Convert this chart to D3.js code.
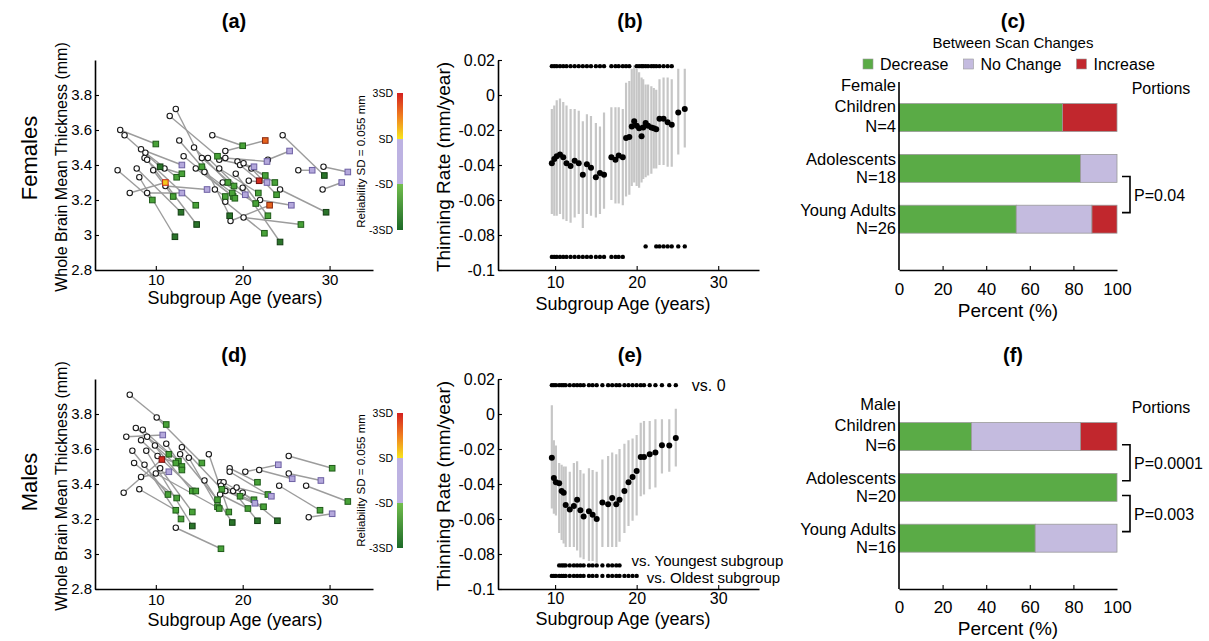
<!DOCTYPE html>
<html><head><meta charset="utf-8">
<script src="https://cdn.jsdelivr.net/npm/d3@7/dist/d3.min.js"></script>
<style>html,body{margin:0;padding:0;background:#fff;}</style>
</head><body>
<script>
// ---------------- DATA ----------------
const ageDomain = [3, 35];
const ageTicks = [10, 20, 30];
const thicknessDomain = [2.8, 4.0];
const thicknessTicks = [2.8, 3, 3.2, 3.4, 3.6, 3.8];
const rateDomain = [-0.1, 0.02];
const rateTicks = [-0.1, -0.08, -0.06, -0.04, -0.02, 0, 0.02];
const percentTicks = [0, 20, 40, 60, 80, 100];
const sdTicks = [3, 1, -1, -3];
const sdTickLabels = ["3SD", "SD", "-SD", "-3SD"];

// [age scan1, thickness scan1, age scan2, thickness scan2, change class]
const femalePairs = [
 [5.9,3.60,10.0,3.52,"G"],[6.4,3.57,10.5,3.39,"D"],[5.6,3.37,9.6,3.20,"G"],[7.0,3.24,11.1,3.30,"Y"],
 [8.3,3.49,13.0,3.40,"P"],[8.8,3.47,12.4,3.33,"G"],[8.7,3.44,14.6,3.17,"G"],[9.0,3.43,14.7,3.06,"D"],
 [7.8,3.38,12.9,3.13,"D"],[8.1,3.33,12.2,2.99,"D"],[9.0,3.24,13.0,3.24,"P"],[9.7,3.37,12.0,3.22,"G"],
 [11.0,3.38,13.0,3.35,"G"],[11.1,3.28,15.9,3.26,"P"],[12.3,3.72,18.5,3.11,"D"],[11.6,3.68,17.1,3.45,"G"],
 [12.7,3.54,15.3,3.39,"G"],[14.4,3.50,18.3,3.30,"G"],[15.3,3.44,19.0,3.28,"G"],[14.6,3.38,18.9,3.22,"G"],
 [16.5,3.57,20.0,3.51,"G"],[17.3,3.43,21.3,3.39,"P"],[17.3,3.38,21.8,3.24,"G"],[18.0,3.48,22.6,3.54,"O"],
 [18.0,3.44,22.8,3.42,"P"],[16.8,3.26,18.0,3.22,"G"],[17.7,3.30,21.5,3.18,"G"],[18.0,3.19,22.5,3.01,"G"],
 [18.6,3.08,23.1,3.17,"O"],[19.4,3.42,22.6,3.34,"G"],[19.7,3.40,21.9,3.31,"R"],[20.1,3.41,23.7,3.30,"G"],
 [20.0,3.27,24.3,2.96,"D"],[20.1,3.10,26.7,3.06,"G"],[20.7,3.31,22.8,3.30,"P"],[22.0,3.20,25.6,3.17,"P"],
 [22.9,3.43,25.4,3.48,"P"],[24.6,3.57,29.4,3.34,"D"],[24.3,3.26,29.6,3.13,"D"],[26.4,3.37,28.0,3.37,"P"],
 [29.3,3.39,32.1,3.36,"P"],[29.2,3.26,31.4,3.30,"P"],[15.6,3.36,18.8,3.24,"G"],[16.0,3.44,20.3,3.23,"P"],
 [19.2,3.35,22.9,3.11,"G"],[21.0,3.38,23.9,3.23,"G"],[13.2,3.45,19.1,3.21,"G"]
];
const malePairs = [
 [7.0,3.91,11.2,3.74,"G"],[6.6,3.67,10.8,3.68,"P"],[6.3,3.35,10.7,3.54,"R"],[8.3,3.44,11.5,3.47,"P"],
 [7.7,3.72,11.5,3.57,"G"],[8.5,3.71,12.6,3.53,"G"],[10.2,3.56,12.3,3.52,"G"],[11.2,3.63,13.0,3.50,"G"],
 [9.9,3.62,13.0,3.48,"G"],[10.1,3.78,15.3,3.52,"G"],[7.3,3.59,11.4,3.34,"G"],[7.5,3.52,12.4,3.32,"G"],
 [8.1,3.37,12.3,3.25,"G"],[8.7,3.51,12.9,3.20,"G"],[9.0,3.67,14.2,3.36,"G"],[8.3,3.65,14.6,3.36,"G"],
 [10.5,3.49,14.2,3.24,"G"],[8.9,3.59,14.2,3.16,"D"],[12.3,3.15,17.5,3.03,"G"],[12.8,3.57,17.1,3.31,"G"],
 [13.8,3.55,17.1,3.27,"G"],[13.0,3.61,17.6,3.37,"G"],[10.0,3.46,17.3,3.26,"G"],[16.1,3.57,18.4,3.24,"G"],
 [15.6,3.42,18.8,3.18,"D"],[17.4,3.41,19.7,3.33,"G"],[17.4,3.34,20.6,3.26,"G"],[17.8,3.41,21.3,3.31,"G"],
 [18.0,3.36,21.4,3.29,"P"],[18.5,3.49,21.7,3.41,"G"],[17.5,3.39,22.4,3.27,"G"],[18.9,3.36,21.7,3.19,"D"],
 [18.5,3.47,22.9,3.34,"G"],[19.3,3.38,23.3,3.33,"P"],[20.0,3.35,24.0,3.19,"D"],[20.3,3.47,24.1,3.51,"P"],
 [21.9,3.48,25.7,3.43,"P"],[25.3,3.46,29.0,3.42,"P"],[24.2,3.39,28.9,3.25,"G"],[27.6,3.21,30.3,3.23,"P"],
 [25.3,3.56,30.3,3.49,"G"],[27.3,3.39,32.1,3.30,"G"]
];

// Thinning rate by subgroup (females)
const femaleRateAge = [9.6,9.9,10.2,10.6,11.0,11.4,11.9,12.4,12.9,13.4,13.9,14.4,15.0,15.5,16.0,16.9,17.4,17.8,18.3,18.7,19.1,19.4,19.7,20.0,20.3,20.6,20.8,21.1,21.4,21.8,22.1,22.4,22.8,23.3,23.8,24.3,25.1,25.9];
const femaleRateMean = [-0.039,-0.0365,-0.035,-0.034,-0.0355,-0.039,-0.0405,-0.0375,-0.039,-0.0455,-0.0395,-0.0415,-0.047,-0.0445,-0.0455,-0.0355,-0.037,-0.0345,-0.0355,-0.0245,-0.024,-0.018,-0.015,-0.0175,-0.019,-0.0235,-0.0185,-0.016,-0.0175,-0.0185,-0.019,-0.0195,-0.0135,-0.0135,-0.0155,-0.017,-0.010,-0.008];
const femaleRateLo = [-0.068,-0.069,-0.069,-0.068,-0.071,-0.072,-0.073,-0.070,-0.068,-0.076,-0.068,-0.069,-0.070,-0.068,-0.065,-0.060,-0.062,-0.062,-0.063,-0.058,-0.057,-0.052,-0.050,-0.052,-0.053,-0.050,-0.048,-0.047,-0.046,-0.045,-0.042,-0.042,-0.040,-0.040,-0.041,-0.041,-0.034,-0.030];
const femaleRateHi = [-0.008,-0.006,-0.003,-0.002,-0.004,-0.006,-0.008,-0.008,-0.009,-0.015,-0.011,-0.012,-0.016,-0.018,-0.010,-0.007,-0.007,-0.007,-0.008,0.007,0.008,0.015,0.017,0.015,0.013,0.010,0.009,0.006,0.006,0.005,0.004,0.003,0.009,0.010,0.010,0.009,0.015,0.015];
const femaleSigVs0 = [1,1,1,1,1,1,1,1,1,1,1,1,1,1,1,1,1,1,1,1,1,0,0,1,1,1,1,1,1,1,1,1,1,1,1,1,0,0];
const femaleSigYoung = [0,0,0,0,0,0,0,0,0,0,0,0,0,0,0,0,0,0,0,0,0,0,0,0,0,0,0,1,0,0,0,1,1,1,1,1,1,1];
const femaleSigOld = [1,1,1,1,1,1,1,1,1,1,1,1,1,1,1,1,1,1,1,0,0,0,0,0,0,0,0,0,0,0,0,0,0,0,0,0,0,0];

// Thinning rate by subgroup (males)
const maleRateAge = [9.6,9.85,10.1,10.5,10.8,11.05,11.3,11.8,12.3,12.7,13.1,13.5,14.15,14.6,15.1,15.8,16.5,17.0,17.5,17.9,18.5,19.0,19.5,20.0,20.5,20.9,21.6,22.3,23.1,24.0,24.8];
const maleRateMean = [-0.025,-0.0365,-0.039,-0.0395,-0.044,-0.045,-0.052,-0.0545,-0.0525,-0.049,-0.055,-0.0585,-0.0555,-0.0575,-0.06,-0.0505,-0.0515,-0.048,-0.0515,-0.049,-0.044,-0.039,-0.036,-0.0325,-0.0245,-0.0245,-0.023,-0.022,-0.0178,-0.018,-0.0137];
const maleRateLo = [-0.054,-0.057,-0.058,-0.068,-0.072,-0.074,-0.076,-0.076,-0.076,-0.078,-0.082,-0.083,-0.084,-0.084,-0.085,-0.076,-0.076,-0.076,-0.076,-0.073,-0.068,-0.064,-0.061,-0.058,-0.047,-0.046,-0.043,-0.042,-0.034,-0.033,-0.030];
const maleRateHi = [0.005,-0.015,-0.018,-0.028,-0.029,-0.030,-0.030,-0.033,-0.028,-0.027,-0.032,-0.034,-0.031,-0.032,-0.033,-0.026,-0.024,-0.022,-0.023,-0.020,-0.017,-0.015,-0.014,-0.012,-0.005,-0.004,-0.004,-0.003,-0.003,-0.003,0.003];
const maleSigVs0 = [1,1,1,1,1,1,1,1,1,1,1,1,1,1,1,1,1,1,1,1,1,1,1,1,1,1,1,1,1,1,1];
const maleSigYoung = [0,0,0,1,1,1,1,1,1,1,1,1,1,1,1,1,1,1,1,1,0,0,0,0,0,0,0,0,0,0,0];
const maleSigOld = [1,1,1,1,1,1,1,1,1,1,1,1,1,1,1,1,1,1,1,1,1,1,1,1,0,0,0,0,0,0,0];
const sigRowLevels = [0.0165, -0.0865, -0.0925]; // vs 0, vs youngest, vs oldest

// Between-scan change portions (%)
const groups = ["Children", "Adolescents", "Young Adults"];
const changeKeys = ["Decrease", "No Change", "Increase"];
const femaleN = [4, 18, 26];
const femaleDecrease = [75, 83.3, 53.8];
const femaleNoChange = [0, 16.7, 34.7];
const femaleIncrease = [25, 0, 11.5];
const maleN = [6, 20, 16];
const maleDecrease = [33.3, 100, 62.5];
const maleNoChange = [50, 0, 37.5];
const maleIncrease = [16.7, 0, 0];
const femalePTests = [[2, 3, "P=0.04"]];
const malePTests = [[1, 2, "P=0.0001"], [2, 3, "P=0.003"]];

// ---------------- DRAWING ----------------
const FONT = '"Liberation Sans", Arial, Helvetica, sans-serif';
const svg = d3.select("body").append("svg").attr("width", 1209).attr("height", 641)
  .attr("font-family", FONT).style("display", "block");

const changeFill = d3.scaleOrdinal().domain(["D","G","P","Y","O","R"])
  .range(["#2a742a","#48a238","#b4a8dc","#f4c81c","#e5621d","#d22a1e"]);
const changeEdge = d3.scaleOrdinal().domain(["D","G","P","Y","O","R"])
  .range(["#123d12","#1e5a18","#6d60a3","#c62a1a","#8a2a10","#701010"]);
const barFill = d3.scaleOrdinal().domain(changeKeys).range(["#5aab46","#c4bbdf","#c1272d"]);

function styleAxis(g, size) {
  g.attr("font-family", FONT);
  g.select(".domain").attr("stroke", "#000").attr("stroke-width", 1.6);
  g.selectAll(".tick line").attr("stroke", "#000").attr("stroke-width", 1.1);
  g.selectAll(".tick text").attr("fill", "#000").attr("font-size", size);
}
function text(g, s, x, y, o) {
  o = o || {};
  const t = g.append("text").text(s).attr("x", x).attr("y", y)
    .attr("font-size", o.size || 16).attr("text-anchor", o.anchor || "start").attr("fill", "#000");
  if (o.bold) t.attr("font-weight", "bold");
  if (o.rot) t.attr("transform", `rotate(-90,${x},${y})`);
  return t;
}

function scatterPanel(cfg) {
  const g = svg.append("g");
  const x = d3.scaleLinear().domain(ageDomain).range([95, 373]);
  const y = d3.scaleLinear().domain(thicknessDomain).range([cfg.bottom, cfg.top]);
  g.selectAll("line.pair").data(cfg.pairs).join("line").attr("class", "pair")
    .attr("x1", d => x(d[0])).attr("y1", d => y(d[1])).attr("x2", d => x(d[2])).attr("y2", d => y(d[3]))
    .attr("stroke", "#9c9c9c").attr("stroke-width", 1.4);
  g.selectAll("circle.s1").data(cfg.pairs).join("circle").attr("class", "s1")
    .attr("cx", d => x(d[0])).attr("cy", d => y(d[1])).attr("r", 2.7)
    .attr("fill", "#fff").attr("stroke", "#1a1a1a").attr("stroke-width", 1.1);
  const sq = 5.6;
  g.selectAll("rect.s2").data(cfg.pairs).join("rect").attr("class", "s2")
    .attr("x", d => x(d[2]) - sq / 2).attr("y", d => y(d[3]) - sq / 2).attr("width", sq).attr("height", sq)
    .attr("fill", d => changeFill(d[4])).attr("stroke", d => changeEdge(d[4])).attr("stroke-width", 1);
  const gx = g.append("g").attr("transform", `translate(0,${cfg.bottom})`)
    .call(d3.axisBottom(x).tickValues(ageTicks).tickSize(-4).tickSizeOuter(0).tickPadding(cfg.xPad));
  styleAxis(gx, 15);
  const gy = g.append("g").attr("transform", `translate(95,0)`)
    .call(d3.axisLeft(y).tickValues(thicknessTicks).tickSize(-4).tickSizeOuter(0).tickPadding(3).tickFormat(d => String(d)));
  styleAxis(gy, 15);
  text(g, "Subgroup Age (years)", 235, cfg.xTitleY, {size: 18, anchor: "middle"});
  text(g, "Whole Brain Mean Thickness (mm)", 67, (cfg.top + cfg.bottom) / 2 + 2, {size: 16, anchor: "middle", rot: true});
  text(g, cfg.title, 234, cfg.titleY, {size: 20, anchor: "middle", bold: true});
  // colorbar
  const cb = d3.scaleLinear().domain([-3, 3]).range([cfg.cbBottom, cfg.cbTop]);
  const gid = "grad" + cfg.title.replace(/\W/g, "");
  const stops = [[3,"#d4201f"],[2,"#f07d1f"],[1,"#f7e41c"],[1,"#bdb2e2"],[-1,"#bdb2e2"],[-1,"#72be4d"],[-3,"#1d6a28"]];
  const grad = svg.append("defs").append("linearGradient").attr("id", gid)
    .attr("x1", 0).attr("y1", 0).attr("x2", 0).attr("y2", 1);
  grad.selectAll("stop").data(stops).join("stop")
    .attr("offset", d => (3 - d[0]) / 6).attr("stop-color", d => d[1]);
  g.append("rect").attr("x", 397).attr("width", 6).attr("y", cb(3)).attr("height", cb(-3) - cb(3))
    .attr("fill", `url(#${gid})`);
  g.selectAll("text.sd").data(sdTicks).join("text").attr("class", "sd")
    .attr("x", 393).attr("y", d => cb(d) + 4).attr("text-anchor", "end").attr("font-size", 10.5)
    .text((d, i) => sdTickLabels[i]);
  text(g, "Reliability SD = 0.055 mm", 365, (cfg.cbTop + cfg.cbBottom) / 2, {size: 11.5, anchor: "middle", rot: true});
}

function ratePanel(cfg) {
  const g = svg.append("g");
  const x = d3.scaleLinear().domain(ageDomain).range([498, 759]);
  const y = d3.scaleLinear().domain(rateDomain).range([cfg.bottom, cfg.top]);
  const pts = cfg.age.map((a, i) => ({a, m: cfg.mean[i], lo: cfg.lo[i], hi: cfg.hi[i],
    s0: cfg.sig0[i], sy: cfg.sigY[i], so: cfg.sigO[i]}));
  g.selectAll("line.err").data(pts).join("line").attr("class", "err")
    .attr("x1", d => x(d.a)).attr("x2", d => x(d.a)).attr("y1", d => y(d.lo)).attr("y2", d => y(d.hi))
    .attr("stroke", "#c6c6c6").attr("stroke-width", 2.2);
  g.selectAll("circle.m").data(pts).join("circle").attr("class", "m")
    .attr("cx", d => x(d.a)).attr("cy", d => y(d.m)).attr("r", 3).attr("fill", "#000");
  [["s0", 0], ["sy", 1], ["so", 2]].forEach(([k, li]) => {
    g.selectAll("circle.sig" + k).data(pts.filter(d => d[k])).join("circle").attr("class", "sig" + k)
      .attr("cx", d => x(d.a)).attr("cy", y(sigRowLevels[li])).attr("r", 2.2).attr("fill", "#000");
  });
  const gx = g.append("g").attr("transform", `translate(0,${cfg.bottom})`)
    .call(d3.axisBottom(x).tickValues(ageTicks).tickSize(-4).tickSizeOuter(0).tickPadding(cfg.xPad));
  styleAxis(gx, 16);
  const gy = g.append("g").attr("transform", `translate(498,0)`)
    .call(d3.axisLeft(y).tickValues(rateTicks).tickSize(-4).tickSizeOuter(0).tickPadding(3).tickFormat(d => String(d)));
  styleAxis(gy, 16);
  text(g, "Subgroup Age (years)", 623, cfg.xTitleY, {size: 18, anchor: "middle"});
  text(g, "Thinning Rate (mm/year)", 450, (cfg.top + cfg.bottom) / 2 + 2, {size: 19, anchor: "middle", rot: true});
  text(g, cfg.title, 630, cfg.titleY, {size: 20, anchor: "middle", bold: true});
  if (cfg.rowLabels) {
    const last = k => d3.max(pts.filter(d => d[k]), d => d.a);
    text(g, "vs. 0", x(last("s0")) + 16, y(sigRowLevels[0]) + 6, {size: 16});
    text(g, "vs. Youngest subgroup", x(last("sy")) + 12, y(sigRowLevels[1]) + 0.5, {size: 15});
    text(g, "vs. Oldest subgroup", x(last("so")) + 10, y(sigRowLevels[2]) + 7.5, {size: 15});
  }
}

function barPanel(cfg) {
  const g = svg.append("g");
  const x = d3.scaleLinear().domain([0, 100]).range([899, 1117]);
  const y = d3.scaleLinear().domain([0.3, 4.0]).range([cfg.top, cfg.bottom]);
  const rows = groups.map((grp, i) => ({grp, c: i + 1, n: cfg.n[i],
    "Decrease": cfg.dec[i], "No Change": cfg.none[i], "Increase": cfg.inc[i]}));
  const stacked = d3.stack().keys(changeKeys)(rows);
  const half = 0.275;
  g.selectAll("g.layer").data(stacked).join("g").attr("class", "layer")
    .attr("fill", d => barFill(d.key))
    .selectAll("rect").data(d => d.filter(s => s[1] - s[0] > 0)).join("rect")
    .attr("x", d => x(d[0])).attr("width", d => x(d[1]) - x(d[0]))
    .attr("y", d => y(d.data.c - half)).attr("height", d => y(d.data.c + half) - y(d.data.c - half))
    .attr("stroke", "#9a9a9a").attr("stroke-width", 0.8);
  const gx = g.append("g").attr("transform", `translate(0,${cfg.bottom})`)
    .call(d3.axisBottom(x).tickValues(percentTicks).tickSize(-4).tickSizeOuter(0).tickPadding(cfg.xPad));
  styleAxis(gx, 17);
  gx.selectAll(".tick line").filter(d => d === 0 || d === 100).remove();
  g.append("line").attr("x1", 899).attr("x2", 899).attr("y1", cfg.top).attr("y2", cfg.bottom)
    .attr("stroke", "#000").attr("stroke-width", 1.6);
  text(g, "Percent (%)", 1008, cfg.xTitleY, {size: 19, anchor: "middle"});
  // category labels
  rows.forEach((r, i) => {
    const cy = y(r.c);
    if (i === 0) {
      text(g, cfg.sexWord, 896, cy - 27, {size: 16.5, anchor: "end"});
      text(g, r.grp, 896, cy - 6, {size: 16.5, anchor: "end"});
      text(g, "N=" + r.n, 896, cy + 14, {size: 16.5, anchor: "end"});
    } else {
      text(g, r.grp, 896, cy - 3, {size: 16.5, anchor: "end"});
      text(g, "N=" + r.n, 896, cy + 15, {size: 16.5, anchor: "end"});
    }
  });
  text(g, "Portions", 1161, cfg.top + 12, {size: 16, anchor: "middle"});
  // significance brackets
  cfg.ptests.forEach(([a, b, lab]) => {
    const y1 = y(a + 0.16), y2 = y(b - 0.13);
    g.append("path").attr("d", `M1122,${y1}H1130V${y2}H1122`).attr("fill", "none")
      .attr("stroke", "#000").attr("stroke-width", 1.6);
    text(g, lab, 1134, (y1 + y2) / 2 + 6, {size: 16});
  });
  text(g, cfg.title, 1013, cfg.titleY, {size: 20, anchor: "middle", bold: true});
}

// Row 1: females
text(svg, "Females", 37, 158, {size: 22, anchor: "middle", rot: true});
scatterPanel({pairs: femalePairs, top: 60, bottom: 270, xPad: 4, xTitleY: 304, title: "(a)", titleY: 28, cbTop: 93, cbBottom: 230});
ratePanel({age: femaleRateAge, mean: femaleRateMean, lo: femaleRateLo, hi: femaleRateHi,
  sig0: femaleSigVs0, sigY: femaleSigYoung, sigO: femaleSigOld, top: 60, bottom: 270, xPad: 7, xTitleY: 310, title: "(b)", titleY: 28, rowLabels: false});
barPanel({n: femaleN, dec: femaleDecrease, none: femaleNoChange, inc: femaleIncrease, ptests: femalePTests,
  sexWord: "Female", top: 82, bottom: 270, xPad: 13, xTitleY: 316.5, title: "(c)", titleY: 28});
// legend
text(svg, "Between Scan Changes", 1013, 48, {size: 15, anchor: "middle"});
(function () {
  let lx = 863;
  changeKeys.forEach(k => {
    svg.append("rect").attr("x", lx).attr("y", 59).attr("width", 10).attr("height", 10)
      .attr("fill", barFill(k)).attr("stroke", "#9a9a9a").attr("stroke-width", 0.6);
    const t = text(svg, k, lx + 17, 70, {size: 16});
    lx += 17 + t.node().getComputedTextLength() + 15;
  });
})();

// Row 2: males
text(svg, "Males", 37, 482, {size: 22, anchor: "middle", rot: true});
scatterPanel({pairs: malePairs, top: 379, bottom: 589, xPad: 5, xTitleY: 626, title: "(d)", titleY: 362, cbTop: 413, cbBottom: 548});
ratePanel({age: maleRateAge, mean: maleRateMean, lo: maleRateLo, hi: maleRateHi,
  sig0: maleSigVs0, sigY: maleSigYoung, sigO: maleSigOld, top: 379, bottom: 589, xPad: 4, xTitleY: 625, title: "(e)", titleY: 362, rowLabels: true});
barPanel({n: maleN, dec: maleDecrease, none: maleNoChange, inc: maleIncrease, ptests: malePTests,
  sexWord: "Male", top: 401, bottom: 589, xPad: 12, xTitleY: 635, title: "(f)", titleY: 362});
</script>
</body></html>
